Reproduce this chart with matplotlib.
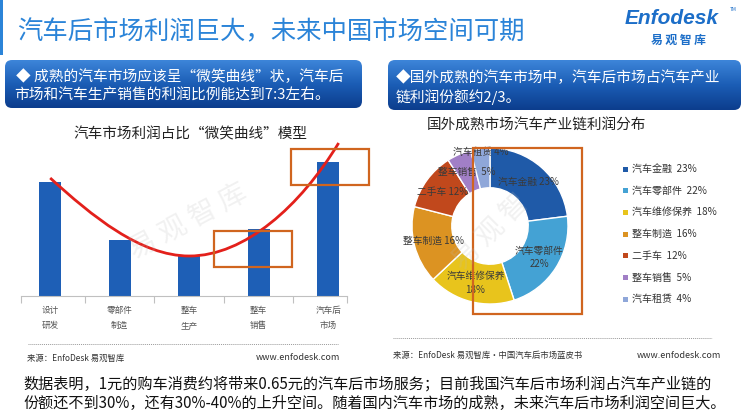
import numpy as np
import matplotlib
matplotlib.use("Agg")
import matplotlib.pyplot as plt
from matplotlib.patches import FancyBboxPatch, Rectangle, PathPatch
from matplotlib.path import Path
from matplotlib.colors import LinearSegmentedColormap

plt.rcParams['font.family'] = ['Noto Sans CJK SC', 'DejaVu Sans']

# ---------------- data ----------------
title_text = "汽车后市场利润巨大，未来中国市场空间可期"
box1_lines = ["◆ 成熟的汽车市场应该呈“微笑曲线”状，汽车后",
              "市场和汽车生产销售的利润比例能达到7:3左右。"]
box2_lines = ["◆国外成熟的汽车市场中，汽车后市场占汽车产业",
              "链利润份额约2/3。"]
bar_title = "汽车市场利润占比“微笑曲线”模型"
bar_categories = ["设计\n研发", "零部件\n制造", "整车\n生产", "整车\n销售", "汽车后\n市场"]
bar_values = [114, 56, 41, 67, 134]
# smile curve control points (category index, value)
curve_pts = [(0, 118), (0.6, 80), (1.3, 40), (2, 40), (2.8, 40), (3.6, 90), (4.15, 153)]

pie_title = "国外成熟市场汽车产业链利润分布"
pie_labels = ["汽车金融", "汽车零部件", "汽车维修保养", "整车制造", "二手车", "整车销售", "汽车租赁"]
pie_values = [23, 22, 18, 16, 12, 5, 4]
pie_inlabels = ["汽车金融 23%", "汽车零部件\n22%", "汽车维修保养\n18%", "整车制造 16%",
                "二手车 12%", "整车销售  5%", "汽车租赁 4%"]
pie_colors = ["#1f5aa8", "#44a2d4", "#e8c41c", "#dc9322", "#c1481c", "#a17fc6", "#8fa7d9"]

source_left = ("来源：EnfoDesk 易观智库", "www.enfodesk.com")
source_right = ("来源：EnfoDesk 易观智库·中国汽车后市场蓝皮书", "www.enfodesk.com")
bottom_lines = ["数据表明，1元的购车消费约将带来0.65元的汽车后市场服务；目前我国汽车后市场利润占汽车产业链的",
                "份额还不到30%，还有30%-40%的上升空间。随着国内汽车市场的成熟，未来汽车后市场利润空间巨大。"]

# ---------------- figure ----------------
W, H = 750, 412
fig = plt.figure(figsize=(W / 100, H / 100), dpi=100)
fig.patch.set_facecolor("white")


def px_axes(x0, y0, w, h, **kw):
    return fig.add_axes([x0 / W, 1 - (y0 + h) / H, w / W, h / H], **kw)


bg = px_axes(0, 0, W, H)
bg.set_xlim(0, W)
bg.set_ylim(H, 0)
bg.axis("off")

# title and left accent bar
bg.add_patch(Rectangle((0, 0), 3, 55, color="#2b84d8", lw=0))
bg.text(17, 32, title_text, fontsize=18.3, color="#2b84d8", va="center", ha="left")

# logo
bg.text(625, 18, "Enfodesk", fontsize=15, fontweight="bold", fontstyle="italic",
        color="#1c6ec8", va="center", ha="left", family=["Liberation Sans", "DejaVu Sans"])
bg.text(730, 9, "TM", fontsize=3.5, color="#1c6ec8", va="center", ha="left")
bg.text(678, 40, "易 观 智 库", fontsize=8.5, fontweight="bold", color="#1c6ec8",
        va="center", ha="center")

# gradient boxes
cmap = LinearSegmentedColormap.from_list("bx", ["#3d85d9", "#1b5db5", "#0c3d8d"])
grad = np.linspace(0, 1, 100).reshape(-1, 1)


def grad_box(x0, y0, w, h):
    patch = FancyBboxPatch((x0, y0), w, h, boxstyle="round,pad=0,rounding_size=7",
                           fc="none", ec="none")
    bg.add_patch(patch)
    im = bg.imshow(grad, extent=(x0, x0 + w, y0 + h, y0), cmap=cmap, aspect="auto",
                   zorder=1, interpolation="bilinear")
    im.set_clip_path(patch)


grad_box(5, 60, 357, 48)
grad_box(388, 60, 353, 50)
bg.set_xlim(0, W)
bg.set_ylim(H, 0)

bg.text(16, 77, box1_lines[0], fontsize=10.6, color="white", va="center", ha="left", zorder=3)
bg.text(14, 96, box1_lines[1], fontsize=10.6, color="white", va="center", ha="left", zorder=3)
bg.text(396, 78, box2_lines[0], fontsize=10.6, color="white", va="center", ha="left", zorder=3)
bg.text(396, 97, box2_lines[1], fontsize=10.6, color="white", va="center", ha="left", zorder=3)

# chart titles
bg.text(190, 134, bar_title, fontsize=10.5, color="#222222", va="center", ha="center")
bg.text(536, 125, pie_title, fontsize=10.5, color="#222222", va="center", ha="center")

# sources
for (x0, x1, y) in [(28, 338, 344), (393, 712, 338)]:
    bg.plot([x0, x1], [y, y], ls=(0, (1, 1)), color="#9a9a9a", lw=0.7)
bg.text(27, 358, source_left[0], fontsize=6, color="#333333", va="center", ha="left")
bg.text(340, 358, source_left[1], fontsize=6.5, color="#333333", va="center", ha="right")
bg.text(393, 355, source_right[0], fontsize=6, color="#333333", va="center", ha="left")
bg.text(721, 355, source_right[1], fontsize=6.5, color="#333333", va="center", ha="right")

# bottom text
bg.text(23, 384, bottom_lines[0], fontsize=10.9, color="#111111", va="center", ha="left")
bg.text(23, 403, bottom_lines[1], fontsize=10.9, color="#111111", va="center", ha="left")

# ---------------- bar chart ----------------
axb = px_axes(21, 130, 326, 166)
xpos = np.arange(len(bar_values))
axb.bar(xpos, bar_values, width=0.32, color="#1e5fb6", zorder=2)
axb.set_xlim(-0.42, 4.27)
axb.set_ylim(0, 166)
for s in ["top", "right", "left"]:
    axb.spines[s].set_visible(False)
axb.spines["bottom"].set_color("#c0c0c0")
axb.spines["bottom"].set_linewidth(0.8)
axb.set_yticks([])
axb.set_xticks(xpos)
axb.set_xticklabels(bar_categories, fontsize=6.2, color="#555555", linespacing=1.9)
axb.tick_params(axis="x", which="major", length=0, pad=7)
axb.set_xticks([-0.42, 0.5, 1.5, 2.5, 3.5, 4.27], minor=True)
axb.tick_params(axis="x", which="minor", length=5, color="#c0c0c0", width=0.8)
axb.patch.set_alpha(0)

codes = [Path.MOVETO] + [Path.CURVE4] * (len(curve_pts) - 1)
axb.add_patch(PathPatch(Path(curve_pts, codes), fc="none", ec="#e3201b", lw=2.0,
                        zorder=3, clip_on=False))

# ---------------- donut chart ----------------
axp = px_axes(412, 148, 156, 156)
wedges, texts = axp.pie(pie_values, colors=pie_colors, startangle=90, counterclock=False,
                        labels=pie_inlabels, labeldistance=0.75,
                        wedgeprops=dict(width=0.51, edgecolor="white", linewidth=1.0),
                        textprops=dict(fontsize=7, color="#3a3a3a", ha="center",
                                       va="center", linespacing=1.5))
axp.set_xlim(-1, 1)
axp.set_ylim(-1, 1)
# last small slice label sits higher on the ring
w = wedges[-1]
mid = np.deg2rad((w.theta1 + w.theta2) / 2)
texts[-1].set_position((0.97 * np.cos(mid), 0.95 * np.sin(mid)))

# legend
top = px_axes(0, 0, W, H)
top.set_xlim(0, W)
top.set_ylim(H, 0)
top.axis("off")
leg_y0, leg_dy = 169, 21.7
for i, (lab, val, col) in enumerate(zip(pie_labels, pie_values, pie_colors)):
    y = leg_y0 + i * leg_dy
    top.add_patch(Rectangle((622.5, y - 2.5), 5, 5, color=col, lw=0))
    top.text(632, y, f"{lab}  {val}%", fontsize=7.2, color="#333333", va="center", ha="left")

# highlight rectangles
for (x0, y0, w_, h_) in [(214, 231, 78, 36), (291, 149, 78, 36), (473, 148, 109, 166)]:
    top.add_patch(Rectangle((x0, y0), w_, h_, fc="none", ec="#d0651f", lw=1.6))

# watermarks
top.text(188, 222, "易 观 智 库", fontsize=20, color="#bbbbbb", alpha=0.2, rotation=28,
         ha="center", va="center")
top.text(490, 232, "易 观 智", fontsize=20, color="#bbbbbb", alpha=0.2, rotation=45,
         ha="center", va="center")

fig.savefig("out.png", dpi=100)
